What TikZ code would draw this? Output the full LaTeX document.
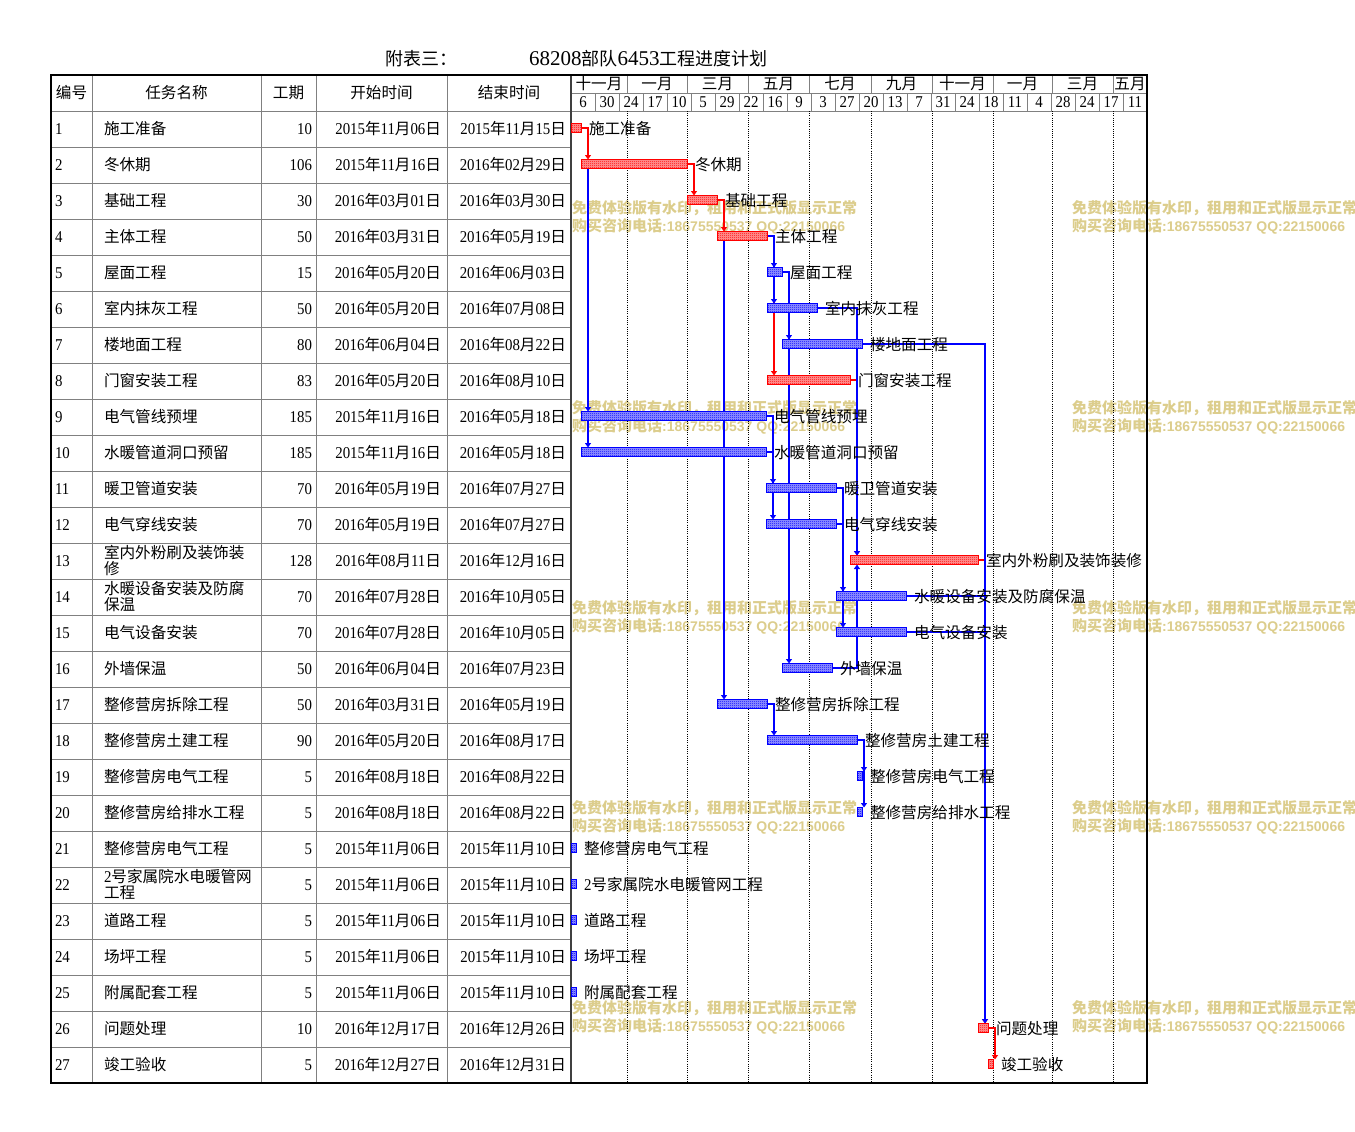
\documentclass[tikz,border=0pt]{standalone}
\usepackage{fontspec}
\setmainfont{Noto Sans CJK SC}
\newfontfamily\nf[FakeStretch=0.9]{Liberation Serif}
\newfontfamily\tnf{Liberation Serif}
\newfontfamily\wmf{Liberation Sans}
\usetikzlibrary{arrows.meta,patterns}
\pgfdeclarepatternformonly{finecheck}{\pgfpointorigin}{\pgfqpoint{2pt}{2pt}}{\pgfqpoint{2pt}{2pt}}{%
  \pgfpathrectangle{\pgfpointorigin}{\pgfqpoint{1pt}{1pt}}%
  \pgfpathrectangle{\pgfqpoint{1pt}{1pt}}{\pgfqpoint{1pt}{1pt}}%
  \pgfusepath{fill}}
\pgfdeclarelayer{bg}
\pgfdeclarelayer{conn}
\pgfsetlayers{bg,conn,main}
\definecolor{wm}{RGB}{220,205,140}
\definecolor{gridgray}{RGB}{128,128,128}
\newcommand\nm[1]{{\nf\fontsize{16.5}{16.5}\selectfont #1}}
\newcommand\dt[3]{\nm{#1}年\nm{#2}月\nm{#3}日}
\newcommand\trow[5]{%
  \pgfmathsetmacro\ry{129+36*(#1-1)+5.5}
  \node[tx,anchor=base west] (n#1) at (55,\ry) {\nm{#1}};
  \node[tx,anchor=base west] (t#1) at (104,\ry) {#2};
  \node[tx,anchor=base east] (d#1) at (312,\ry) {\nm{#3}};
  \node[tx,anchor=base east] (s#1) at (441,\ry) {#4};
  \node[tx,anchor=base east] (e#1) at (566,\ry) {#5};
}
\newcommand\trowtwo[6]{%
  \pgfmathsetmacro\ry{129+36*(#1-1)+5.5}
  \node[tx,anchor=base west] (n#1) at (55,\ry) {\nm{#1}};
  \node[tx,anchor=base west] (t#1) at (104,\ry-8) {#2};
  \node[tx,anchor=base west] (u#1) at (104,\ry+8) {#3};
  \node[tx,anchor=base east] (d#1) at (312,\ry) {\nm{#4}};
  \node[tx,anchor=base east] (s#1) at (441,\ry) {#5};
  \node[tx,anchor=base east] (e#1) at (566,\ry) {#6};
}
\begin{document}
\begin{tikzpicture}[x=1pt,y=-1pt,
  tx/.style={inner sep=0pt,outer sep=0pt,font=\fontsize{15.6}{15.6}\selectfont},
  wmk/.style={inner sep=0pt,text=wm,font=\bfseries\fontsize{15}{15}\selectfont},
  gbar/.style={draw=#1,line width=0.9pt,preaction={fill=#1!40!white},pattern=finecheck,pattern color=#1,
    minimum height=9pt,inner sep=0pt,outer sep=0pt},
  arr/.style={-{Triangle[width=6pt,length=4.5pt]}},
  rl/.style={red,line width=1.2pt},
  bl/.style={blue,line width=1.2pt},
  tbl/.style={draw=gridgray,line width=1pt},
  dotl/.style={black,line width=0.9pt,dash pattern=on 1pt off 1.2pt}]
\useasboundingbox (0,0) rectangle (1355,1132);
\begin{pgfonlayer}{bg}
\fill[white] (0,0) rectangle (1355,1132);
% watermark
\foreach \wy in {208,408,608,808,1008}{
  \foreach \wx in {572,1072}{
    \node[wmk,anchor=base west] (wa-\wx-\wy) at (\wx,\wy+5.5) {免费体验版有水印，租用和正式版显示正常};
    \node[wmk,anchor=base west] (wb-\wx-\wy) at (\wx,\wy+23.5) {购买咨询电话{\wmf\fontsize{14}{14}\selectfont :18675550537 QQ:22150066}};
  }
}
% table grid
\foreach \k in {1,...,26} \draw[tbl] (51,111+36*\k) -- (571,111+36*\k);
\draw[tbl] (51,111) -- (1147,111);
\foreach \xx in {92,261,316,447} \draw[tbl] (\xx,75) -- (\xx,1083);
\draw[tbl] (571,93) -- (1147,93);
\foreach \xx in {627,687,748,809,871,932,993,1052,1113} \draw[tbl] (\xx,75) -- (\xx,93);
\foreach \k in {1,...,23} \draw[tbl] (571+24*\k,93) -- (571+24*\k,111);
\foreach \xx in {627,687,748,809,871,932,993,1052,1113} \draw[dotl] (\xx,111) -- (\xx,1083);
\draw[draw=black!75,line width=1.2pt] (571,75) -- (571,1083);
\draw[black,line width=1.4pt] (51,75) rectangle (1147,1083);
\end{pgfonlayer}
% title
\node[inner sep=0pt,anchor=base west,font=\fontsize{18}{18}\selectfont] (ttl1) at (385,66) {附表三：};
\node[inner sep=0pt,anchor=base west,font=\fontsize{18}{18}\selectfont] (ttl2) at (529,66) {{\tnf\fontsize{21}{21}\selectfont 68208}部队{\tnf\fontsize{21}{21}\selectfont 6453}工程进度计划};
% table header
\node[tx,anchor=base] (h1) at (71.5,98.5) {编号};
\node[tx,anchor=base] (h2) at (176.5,98.5) {任务名称};
\node[tx,anchor=base] (h3) at (288.5,98.5) {工期};
\node[tx,anchor=base] (h4) at (381.5,98.5) {开始时间};
\node[tx,anchor=base] (h5) at (509,98.5) {结束时间};
% chart header
\foreach \a/\b/\t [count=\k] in {571/627/十一月,627/687/一月,687/748/三月,748/809/五月,809/871/七月,871/932/九月,932/993/十一月,993/1052/一月,1052/1113/三月,1113/1147/五月}
  \node[tx,anchor=base] (m\k) at ({(\a+\b)/2},89.5) {\t};
\foreach \t [count=\k] in {6,30,24,17,10,5,29,22,16,9,3,27,20,13,7,31,24,18,11,4,28,24,17,11}
  \node[tx,anchor=base] (w\k) at (559+24*\k,107.5) {\nm{\t}};
% table rows
\trow{1}{施工准备}{10}{\dt{2015}{11}{06}}{\dt{2015}{11}{15}}
\trow{2}{冬休期}{106}{\dt{2015}{11}{16}}{\dt{2016}{02}{29}}
\trow{3}{基础工程}{30}{\dt{2016}{03}{01}}{\dt{2016}{03}{30}}
\trow{4}{主体工程}{50}{\dt{2016}{03}{31}}{\dt{2016}{05}{19}}
\trow{5}{屋面工程}{15}{\dt{2016}{05}{20}}{\dt{2016}{06}{03}}
\trow{6}{室内抹灰工程}{50}{\dt{2016}{05}{20}}{\dt{2016}{07}{08}}
\trow{7}{楼地面工程}{80}{\dt{2016}{06}{04}}{\dt{2016}{08}{22}}
\trow{8}{门窗安装工程}{83}{\dt{2016}{05}{20}}{\dt{2016}{08}{10}}
\trow{9}{电气管线预埋}{185}{\dt{2015}{11}{16}}{\dt{2016}{05}{18}}
\trow{10}{水暖管道洞口预留}{185}{\dt{2015}{11}{16}}{\dt{2016}{05}{18}}
\trow{11}{暖卫管道安装}{70}{\dt{2016}{05}{19}}{\dt{2016}{07}{27}}
\trow{12}{电气穿线安装}{70}{\dt{2016}{05}{19}}{\dt{2016}{07}{27}}
\trowtwo{13}{室内外粉刷及装饰装}{修}{128}{\dt{2016}{08}{11}}{\dt{2016}{12}{16}}
\trowtwo{14}{水暖设备安装及防腐}{保温}{70}{\dt{2016}{07}{28}}{\dt{2016}{10}{05}}
\trow{15}{电气设备安装}{70}{\dt{2016}{07}{28}}{\dt{2016}{10}{05}}
\trow{16}{外墙保温}{50}{\dt{2016}{06}{04}}{\dt{2016}{07}{23}}
\trow{17}{整修营房拆除工程}{50}{\dt{2016}{03}{31}}{\dt{2016}{05}{19}}
\trow{18}{整修营房土建工程}{90}{\dt{2016}{05}{20}}{\dt{2016}{08}{17}}
\trow{19}{整修营房电气工程}{5}{\dt{2016}{08}{18}}{\dt{2016}{08}{22}}
\trow{20}{整修营房给排水工程}{5}{\dt{2016}{08}{18}}{\dt{2016}{08}{22}}
\trow{21}{整修营房电气工程}{5}{\dt{2015}{11}{06}}{\dt{2015}{11}{10}}
\trowtwo{22}{\nm{2}号家属院水电暖管网}{工程}{5}{\dt{2015}{11}{06}}{\dt{2015}{11}{10}}
\trow{23}{道路工程}{5}{\dt{2015}{11}{06}}{\dt{2015}{11}{10}}
\trow{24}{场坪工程}{5}{\dt{2015}{11}{06}}{\dt{2015}{11}{10}}
\trow{25}{附属配套工程}{5}{\dt{2015}{11}{06}}{\dt{2015}{11}{10}}
\trow{26}{问题处理}{10}{\dt{2016}{12}{17}}{\dt{2016}{12}{26}}
\trow{27}{竣工验收}{5}{\dt{2016}{12}{27}}{\dt{2016}{12}{31}}
% bars and labels
\foreach \i/\sa/\ea/\bc/\lab in {
 1/0/10/red/施工准备,
 2/10/116/red/冬休期,
 3/116/146/red/基础工程,
 4/146/196/red/主体工程,
 5/196/211/blue/屋面工程,
 6/196/246/blue/室内抹灰工程,
 7/211/291/blue/楼地面工程,
 8/196/279/red/门窗安装工程,
 9/10/195/blue/电气管线预埋,
 10/10/195/blue/水暖管道洞口预留,
 11/195/265/blue/暖卫管道安装,
 12/195/265/blue/电气穿线安装,
 13/279/407/red/室内外粉刷及装饰装修,
 14/265/335/blue/水暖设备安装及防腐保温,
 15/265/335/blue/电气设备安装,
 16/211/261/blue/外墙保温,
 17/146/196/blue/整修营房拆除工程,
 18/196/286/blue/整修营房土建工程,
 19/286/291/blue/整修营房电气工程,
 20/286/291/blue/整修营房给排水工程,
 21/0/5/blue/整修营房电气工程,
 22/0/5/blue/{\nm{2}号家属院水电暖管网工程},
 23/0/5/blue/道路工程,
 24/0/5/blue/场坪工程,
 25/0/5/blue/附属配套工程,
 26/407/417/red/问题处理,
 27/417/422/red/竣工验收}{
  \pgfmathsetmacro\by{129+36*(\i-1)}
  \pgfmathsetmacro\bw{\ea-\sa}
  \node[gbar=\bc,minimum width=\bw pt,anchor=west] (b\i) at (571+\sa,\by-1) {};
  \node[tx,anchor=base west] (l\i) at (571+\ea+8,\by+5.5) {\lab};
}
\coordinate (j26) at ([xshift=7pt]b26.north west);
% connectors
\begin{pgfonlayer}{conn}
\draw[rl,arr] (b1.east) -| ([xshift=7pt]b2.north west);
\draw[rl,arr] (b2.east) -| ([xshift=7pt]b3.north west);
\draw[rl,arr] (b3.east) -| ([xshift=7pt]b4.north west);
\draw[rl,arr] (b4.east) -| ([xshift=7pt]b8.north west);
\draw[rl,arr] (b8.east) -| ([xshift=7pt]b13.north west);
\draw[rl,arr] (b13.east) -| (j26);
\draw[rl,arr] (b26.east) -| ([xshift=7pt]b27.north west);
\draw[bl,arr] ([xshift=7pt]b2.south west) -- ([xshift=7pt]b9.north west);
\draw[bl,arr] ([xshift=7pt]b9.south west) -- ([xshift=7pt]b10.north west);
\draw[bl,arr] ([xshift=7pt]b4.south west) -- ([xshift=7pt]b17.north west);
\draw[bl,arr] (b4.east) -| ([xshift=7pt]b6.north west);
\draw[bl,arr] (b4.east) -| ([xshift=7pt]b5.north west);
\draw[bl,arr] (b5.east) -| ([xshift=7pt]b16.north west);
\draw[bl,arr] (b5.east) -| ([xshift=7pt]b7.north west);
\draw[bl,arr] (b6.east) -| ([xshift=7pt]b13.north west);
\draw[bl,arr] (b16.east) -| ([xshift=7pt]b13.south west);
\draw[bl,arr] (b7.east) -| (j26);
\draw[bl] (b14.east) -- (j26 |- b14.east);
\draw[bl] (b15.east) -- (j26 |- b15.east);
\draw[bl,arr] (b9.east) -| ([xshift=7pt]b11.north west);
\draw[bl,arr] (b10.east) -| ([xshift=7pt]b12.north west);
\draw[bl,arr] (b11.east) -| ([xshift=7pt]b14.north west);
\draw[bl,arr] (b12.east) -| ([xshift=7pt]b15.north west);
\draw[bl,arr] (b17.east) -| ([xshift=7pt]b18.north west);
\draw[bl,arr] (b18.east) -| ([xshift=7pt]b19.north west);
\draw[bl,arr] (b18.east) -| ([xshift=7pt]b20.north west);
\end{pgfonlayer}
\end{tikzpicture}
\end{document}
